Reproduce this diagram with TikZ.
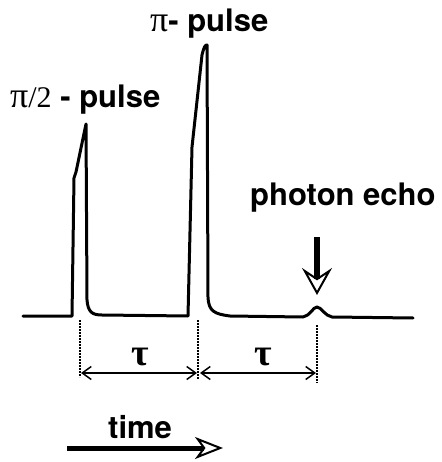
\documentclass[tikz,border=0pt]{standalone}
\usepackage{fontspec}
\setmainfont{TeX Gyre Heros}
\newfontfamily\grk{Liberation Serif}
\usetikzlibrary{arrows.meta}
\begin{document}
\begin{tikzpicture}[x=1pt,y=-1pt,
  sig/.style={line width=3pt, line join=round, line cap=round},
  lbl/.style={font=\fontsize{31}{33}\selectfont\bfseries, inner sep=0pt, anchor=base west},
  taulbl/.style={font=\fontsize{38}{40}\selectfont\grk\bfseries, inner sep=0pt},
  tick/.style={line width=2.5pt, dash pattern=on 1.6pt off 1.4pt},
  span/.style={line width=1.5pt, {Straight Barb[length=9pt,width=13pt]}-{Straight Barb[length=9pt,width=13pt]}},
  bigarrow/.style={line width=5pt, -{Stealth[open, line width=2pt, length=28pt, width=22pt, inset=8pt]}},
  echoarrow/.style={line width=6pt, -{Stealth[open, line width=2pt, length=27pt, width=30pt, inset=10pt]}}]
\path[use as bounding box] (0,0) rectangle (441,462);

% signal trace
\draw[sig] (23,316) -- (72,316) -- (74,178) -- (76,172) -- (86,124)
  -- (87,300) .. controls (88,312) and (92,315) .. (102,315)
  -- (188,316) -- (192,147) -- (202,55) .. controls (204,47) and (205,45) .. (207,45)
  -- (208,298) .. controls (209,311) and (214,314) .. (230,316)
  -- (303,317) .. controls (310,316) and (313,307) .. (317,307)
  .. controls (321,307) and (325,316) .. (332,317) -- (413,318);

% labels
\node[lbl] (lhalf) at (10,108) {{\grk\mdseries\fontsize{36}{38}\selectfont π}{\grk\mdseries\fontsize{30}{32}\selectfont /2} - pulse};
\node[lbl] (lpi) at (150,32) {{\grk\mdseries\fontsize{36}{38}\selectfont π}- pulse};
\node[lbl] (lecho) at (250,205) {photon echo};
\node[lbl] (ltime) at (108,438) {time};

% echo arrow
\coordinate (ea) at (317,237);
\coordinate (eb) at (317,295);
\draw[echoarrow] (ea) -- (eb);

% dotted markers
\coordinate (d1a) at (80,320);  \coordinate (d1b) at (80,377);
\coordinate (d2a) at (198,320); \coordinate (d2b) at (198,379);
\coordinate (d3a) at (317,325); \coordinate (d3b) at (317,383);
\draw[tick] (d1a) -- (d1b);
\draw[tick] (d2a) -- (d2b);
\draw[tick] (d3a) -- (d3b);

% spans
\coordinate (s1a) at (81,373);  \coordinate (s1b) at (197,373);
\coordinate (s2a) at (200,373); \coordinate (s2b) at (316,373);
\draw[span] (s1a) -- (s1b);
\draw[span] (s2a) -- (s2b);
\node[taulbl] (tau1) at (140,357) {τ};
\node[taulbl] (tau2) at (263,357) {τ};

% time arrow
\coordinate (ta) at (67,448);
\coordinate (tb) at (223,448);
\draw[bigarrow] (ta) -- (tb);
\end{tikzpicture}
\end{document}
